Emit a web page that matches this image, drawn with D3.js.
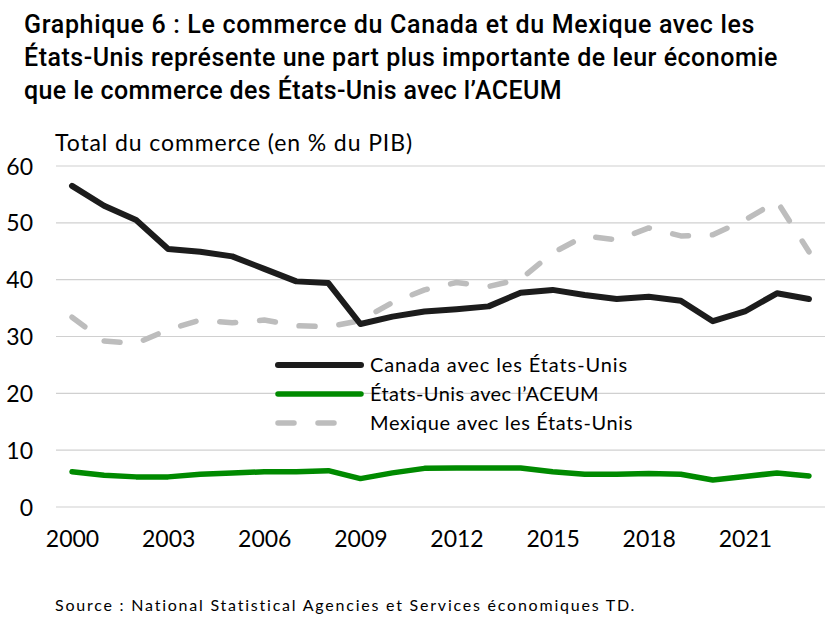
<!DOCTYPE html>
<html><head><meta charset="utf-8">
<script src="https://cdn.jsdelivr.net/npm/d3@7"></script>
<style>body{margin:0;background:#fff}</style>
</head><body><svg id="c" width="827" height="617"></svg>
<script>
const years = d3.range(2000, 2024);
const yTicks = [0, 10, 20, 30, 40, 50, 60];
const xTickYears = [2000, 2003, 2006, 2009, 2012, 2015, 2018, 2021];
const canada = [56.5, 53.0, 50.5, 45.4, 44.9, 44.1, 41.9, 39.7, 39.4, 32.2, 33.5, 34.4, 34.8, 35.3, 37.7, 38.2, 37.3, 36.6, 37.0, 36.3, 32.7, 34.4, 37.6, 36.6];
const usUsmca = [6.2, 5.6, 5.3, 5.3, 5.75, 6.0, 6.2, 6.2, 6.4, 5.0, 6.0, 6.8, 6.85, 6.85, 6.85, 6.2, 5.75, 5.75, 5.9, 5.75, 4.75, 5.35, 6.0, 5.45];
const mexico = [33.4, 29.2, 28.8, 31.2, 32.9, 32.4, 32.9, 31.9, 31.7, 32.8, 36.0, 38.2, 39.5, 38.8, 40.1, 44.7, 47.7, 47.0, 49.1, 47.7, 47.9, 50.5, 53.8, 44.9];
const seriesNames = ["Canada avec les États-Unis", "États-Unis avec l’ACEUM", "Mexique avec les États-Unis"];
const titleLines = ["Graphique 6 : Le commerce du Canada et du Mexique avec les", "États-Unis représente une part plus importante de leur économie", "que le commerce des États-Unis avec l’ACEUM"];
const yTitle = "Total du commerce (en % du PIB)";
const sourceText = "Source : National Statistical Agencies et Services économiques TD.";

const svg = d3.select("#c");
const titleFont = "Roboto, 'Liberation Sans', sans-serif";
const bodyFont = "Lato, 'Noto Sans', sans-serif";

function fit(sel, target) {
  sel.each(function() {
    const n = this.getNumberOfChars();
    const len = this.getComputedTextLength();
    d3.select(this).style("letter-spacing", ((target - len) / n) + "px");
  });
}

const titleWidths = [731, 754, 538];
svg.append("g").selectAll("text").data(titleLines).join("text")
  .attr("x", 24).attr("y", (d, i) => 33 + i * 33)
  .style("font-family", titleFont).style("font-size", "25px").style("font-weight", "500")
  .attr("fill", "#000")
  .text(d => d)
  .each(function(d, i) { fit(d3.select(this), titleWidths[i]); });

const x = d3.scalePoint().domain(years).range([56, 825]).padding(0.5);
const y = d3.scaleLinear().domain([0, 60]).range([507, 166]);

const grid = svg.append("g");
grid.selectAll("line").data(yTicks).join("line")
  .attr("x1", 56).attr("x2", 825).attr("y1", d => y(d)).attr("y2", d => y(d))
  .attr("stroke", "#d0d0d0").attr("stroke-width", 1.2);

const yAxis = d3.axisLeft(y).tickValues(yTicks).tickSize(0).tickPadding(0);
const gy = svg.append("g").attr("transform", "translate(33,0)").call(yAxis);
gy.select(".domain").remove();
gy.selectAll("text").style("font-family", bodyFont).style("font-size", "23px").attr("fill", "#000").attr("dy", "0.35em");

const xAxis = d3.axisBottom(x).tickValues(xTickYears).tickSize(0).tickPadding(0);
const gx = svg.append("g").attr("transform", "translate(0,531)").call(xAxis);
gx.select(".domain").remove();
gx.selectAll("text").style("font-family", bodyFont).style("font-size", "23px").attr("fill", "#000").attr("dy", "0.71em");

svg.append("text").attr("x", 55).attr("y", 151).style("font-family", bodyFont).style("font-size", "23px").attr("fill", "#000").text(yTitle)
  .call(s => fit(s, 358));

const line = d3.line().x((d, i) => x(years[i])).y(d => y(d));
const styles = [
  {data: canada, color: "#1c1c1c", w: 6, dash: null, x2: 361},
  {data: usUsmca, color: "#008a00", w: 5.5, dash: null, x2: 361},
  {data: mexico, color: "#bdbdbd", w: 5.5, dash: "16 24", x2: 336}
];
const order = [2, 1, 0];
order.forEach(k => {
  const s = styles[k];
  svg.append("path").datum(s.data).attr("d", line).attr("fill", "none")
    .attr("stroke", s.color).attr("stroke-width", s.w)
    .attr("stroke-linejoin", "round").attr("stroke-linecap", "round")
    .attr("stroke-dasharray", s.dash);
});

const legendWidths = [258, 229, 263];
const lg = svg.append("g");
seriesNames.forEach((n, i) => {
  const s = styles[i];
  const yy = 365 + i * 29;
  lg.append("line").attr("x1", 278).attr("x2", s.x2).attr("y1", yy).attr("y2", yy)
    .attr("stroke", s.color).attr("stroke-width", s.w).attr("stroke-linecap", "round")
    .attr("stroke-dasharray", s.dash);
  lg.append("text").attr("x", 370).attr("y", yy).attr("dy", "0.35em")
    .style("font-family", bodyFont).style("font-size", "20px").attr("fill", "#000").text(n)
    .call(t => fit(t, legendWidths[i]));
});

svg.append("text").attr("x", 55).attr("y", 611).style("font-family", bodyFont).style("font-size", "16px").attr("fill", "#000").text(sourceText)
  .call(s => fit(s, 582));
</script></body></html>
